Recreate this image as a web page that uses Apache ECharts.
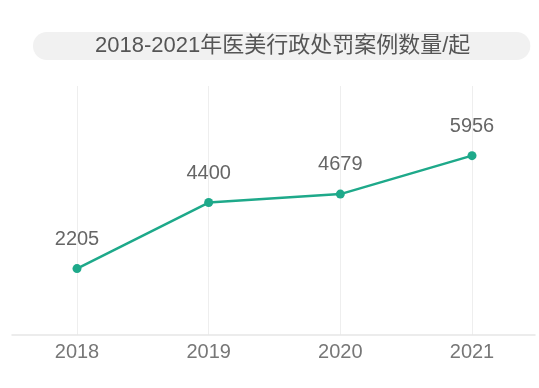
<!DOCTYPE html>
<html>
<head>
<meta charset="utf-8">
<script src="https://cdn.jsdelivr.net/npm/echarts@6/dist/echarts.min.js"></script>
<style>html,body{margin:0;padding:0;background:#fff;}#c{width:539px;height:388px;}</style>
</head>
<body>
<div id="c"></div>
<script>
var titleText = '2018-2021年医美行政处罚案例数量/起';
var categories = ['2018', '2019', '2020', '2021'];
var values = [2205, 4400, 4679, 5956];

var FONT = '"Liberation Sans", "Noto Sans CJK SC", sans-serif';
var chart = echarts.init(document.getElementById('c'), null, {renderer: 'canvas'});
chart.setOption({
  backgroundColor: '#ffffff',
  animation: false,
  title: {
    text: titleText,
    left: 33,
    top: 32,
    padding: [3, 60, 3, 62],
    backgroundColor: '#f1f1f1',
    borderRadius: 14,
    textStyle: {fontFamily: FONT, fontSize: 22, fontWeight: 'normal', color: '#555555', lineHeight: 22}
  },
  grid: [
    {left: 77, right: 67, top: 86, bottom: 53},
    {left: 12, right: 4, top: 86, bottom: 53}
  ],
  xAxis: [
    {
      type: 'category', gridIndex: 0, data: categories, boundaryGap: false,
      axisLine: {show: false}, axisTick: {show: false},
      axisLabel: {fontFamily: FONT, fontSize: 20, color: '#777777', margin: 7},
      splitLine: {show: true, lineStyle: {color: '#eeeeee', width: 1}}
    },
    {
      type: 'value', gridIndex: 1, min: 0, max: 1,
      axisLine: {show: true, lineStyle: {color: '#e6e6e6', width: 1.5}},
      axisTick: {show: false}, axisLabel: {show: false}, splitLine: {show: false}
    }
  ],
  yAxis: [
    {type: 'value', gridIndex: 0, min: 0, max: 8270, show: false, splitLine: {show: false}},
    {type: 'value', gridIndex: 1, min: 0, max: 1, show: false, splitLine: {show: false}}
  ],
  series: [{
    type: 'line',
    xAxisIndex: 0, yAxisIndex: 0,
    data: values,
    symbol: 'circle', symbolSize: 9,
    lineStyle: {color: '#1ea98a', width: 2.5},
    itemStyle: {color: '#1ea98a'},
    label: {show: true, position: 'top', distance: 15, fontFamily: FONT, fontSize: 20, color: '#666666'}
  }]
});
</script>
</body>
</html>
